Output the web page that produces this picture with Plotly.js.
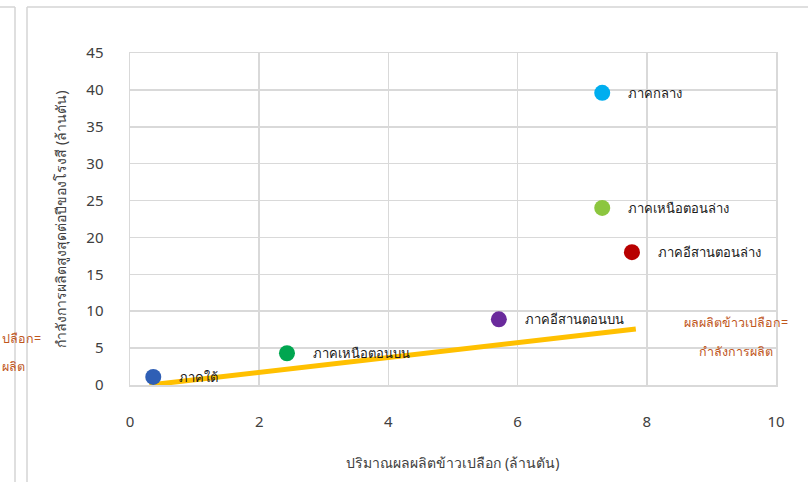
<!DOCTYPE html>
<html>
<head>
<meta charset="utf-8">
<script src="https://cdn.plot.ly/plotly-3.0.1.min.js"></script>
<style>
  html, body { margin: 0; padding: 0; background: #ffffff; }
  #chart { width: 808px; height: 482px; }
</style>
</head>
<body>
<div id="chart"></div>
<script>
// Regions: paddy output (million tonnes) vs. max annual mill capacity (million tonnes)
const regions = ['ภาคใต้', 'ภาคเหนือตอนบน', 'ภาคอีสานตอนบน', 'ภาคกลาง', 'ภาคเหนือตอนล่าง', 'ภาคอีสานตอนล่าง'];
const paddyOutput = [0.36, 2.43, 5.71, 7.31, 7.31, 7.77];
const millCapacity = [1.1, 4.3, 8.9, 39.6, 24.0, 18.0];
const regionColors = ['#2f5fb5', '#00a650', '#6a2a9c', '#00aeef', '#8cc63f', '#b80000'];

// Reference line: output = capacity
const parityX = [0.3, 7.83];
const parityY = [0.0, 7.6];
const parityLabel = ['ผลผลิตข้าวเปลือก=', 'กำลังการผลิต'];
// the same caption from the neighbouring panel, only its tail visible
const spillLabel = ['ปลือก=', 'ผลิต'];

const xTicks = [0, 2, 4, 6, 8, 10];
const yTicks = [0, 5, 10, 15, 20, 25, 30, 35, 40, 45];

const xTitle = 'ปริมาณผลผลิตข้าวเปลือก (ล้านตัน)';
const yTitle = 'กำลังการผลิตสูงสุดต่อปีของโรงสี (ล้านตัน)';

const FONT = 'Tahoma, "Noto Sans", "DejaVu Sans", sans-serif';

// plot area geometry in pixels
const W = 808, H = 482;
const M = { l: 130, r: 32, t: 53, b: 97 };
const PW = W - M.l - M.r, PH = H - M.t - M.b;
const px = v => (v - M.l) / PW;
const py = v => (H - M.b - v) / PH;

const traces = [
  {
    type: 'scatter', mode: 'lines',
    x: parityX, y: parityY,
    line: { color: '#ffc000', width: 5 },
    hoverinfo: 'skip', showlegend: false
  }
];
regions.forEach((r, i) => {
  traces.push({
    type: 'scatter', mode: 'markers',
    x: [paddyOutput[i]], y: [millCapacity[i]],
    marker: { color: regionColors[i], size: 16 },
    name: r, showlegend: false, cliponaxis: false
  });
});

const annotations = regions.map((r, i) => ({
  x: paddyOutput[i], y: millCapacity[i], xref: 'x', yref: 'y',
  text: r, showarrow: false, xanchor: 'left', yanchor: 'middle',
  xshift: 24, font: { family: FONT, size: 13, color: '#1a1a1a' }
}));

const captionFont = { family: FONT, size: 12.5, color: '#c0561b' };
annotations.push(
  { xref: 'paper', yref: 'paper', x: px(736), y: py(322), text: parityLabel[0], showarrow: false,
    xanchor: 'center', yanchor: 'middle', font: captionFont },
  { xref: 'paper', yref: 'paper', x: px(736), y: py(351), text: parityLabel[1], showarrow: false,
    xanchor: 'center', yanchor: 'middle', font: captionFont },
  { xref: 'paper', yref: 'paper', x: px(0), y: py(338), text: spillLabel[0], showarrow: false,
    xanchor: 'left', yanchor: 'middle', font: captionFont },
  { xref: 'paper', yref: 'paper', x: px(0), y: py(366), text: spillLabel[1], showarrow: false,
    xanchor: 'left', yanchor: 'middle', font: captionFont }
);

// panel frames
const frameLine = { color: '#d4d4d4', width: 1.5 };
const shapes = [
  { type: 'line', xref: 'paper', yref: 'paper', x0: px(27), x1: px(27), y0: py(7), y1: py(482), line: frameLine, layer: 'below' },
  { type: 'line', xref: 'paper', yref: 'paper', x0: px(27), x1: px(808), y0: py(7), y1: py(7), line: frameLine, layer: 'below' },
  { type: 'line', xref: 'paper', yref: 'paper', x0: px(15), x1: px(15), y0: py(7), y1: py(482), line: frameLine, layer: 'below' },
  { type: 'line', xref: 'paper', yref: 'paper', x0: px(0), x1: px(15), y0: py(7), y1: py(7), line: frameLine, layer: 'below' }
];

const layout = {
  width: W, height: H,
  margin: M,
  paper_bgcolor: '#ffffff', plot_bgcolor: '#ffffff',
  showlegend: false,
  font: { family: FONT, color: '#404040' },
  xaxis: {
    range: [0, 10], tickvals: xTicks, ticktext: xTicks.map(String),
    showgrid: true, gridcolor: '#d9d9d9', gridwidth: 1.5,
    zeroline: false, showline: true, linecolor: '#d9d9d9', linewidth: 1.5, mirror: true,
    ticks: '', ticklabelstandoff: 22,
    tickfont: { family: FONT, size: 15, color: '#404040' },
    title: { text: xTitle, standoff: 28, font: { family: FONT, size: 14, color: '#404040' } }
  },
  yaxis: {
    range: [0, 45], tickvals: yTicks, ticktext: yTicks.map(String),
    showgrid: true, gridcolor: '#d9d9d9', gridwidth: 1.5,
    zeroline: false, showline: true, linecolor: '#d9d9d9', linewidth: 1.5, mirror: true,
    ticks: '', ticklabelstandoff: 22,
    tickfont: { family: FONT, size: 15, color: '#404040' },
    title: { text: yTitle, standoff: 16, font: { family: FONT, size: 14, color: '#404040' } }
  },
  annotations: annotations,
  shapes: shapes
};

Plotly.newPlot('chart', traces, layout, { displayModeBar: false, staticPlot: true });
</script>
</body>
</html>
